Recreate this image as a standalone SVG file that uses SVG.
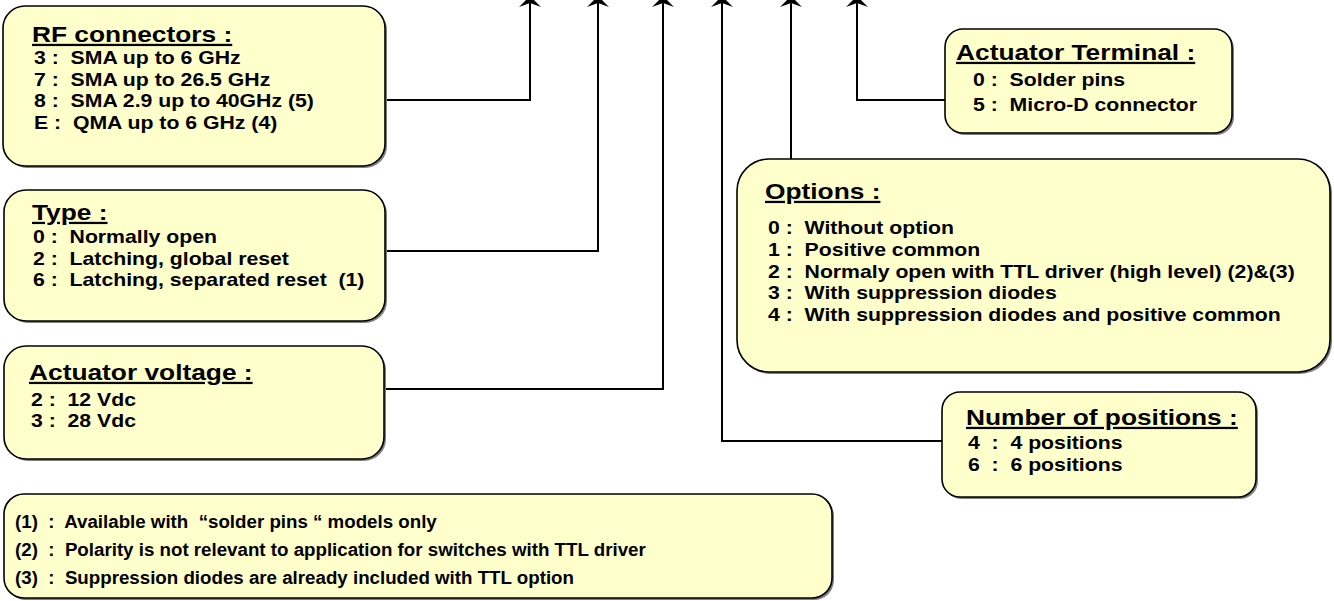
<svg xmlns="http://www.w3.org/2000/svg" width="1334" height="601" viewBox="0 0 1334 601">
<style>
text { font-family: "Liberation Sans", Arial, sans-serif; font-weight: bold; fill: #000; white-space: pre; }
.ti { font-size: 22.5px; text-decoration: underline; }
.it { font-size: 18px; }
.fn { font-size: 17.5px; }
.box { fill: #FFFFCC; stroke: #000; stroke-width: 1.6; }
.sh { fill: #7f7f7f; }
.con { fill: none; stroke: #000; stroke-width: 2; marker-end: url(#arr); }
</style>
<defs>
<marker id="arr" markerUnits="userSpaceOnUse" orient="auto" refX="0" refY="0" markerWidth="30" markerHeight="30" overflow="visible">
<path d="M0,0 L-11,-11 L-7,0 L-11,11 Z" fill="#000"/>
</marker>
</defs>

<g id="connectors">
<path class="con" d="M385,100 H530 V-4"/>
<path class="con" d="M385,251 H598 V-4"/>
<path class="con" d="M384,389 H663 V-4"/>
<path class="con" d="M942,441 H722 V-4"/>
<path class="con" d="M791,159 V-4"/>
<path class="con" d="M945,100 H857 V-4"/>
</g>

<g id="rf-connectors">
<rect class="sh" x="5" y="8" width="382" height="160" rx="22"/>
<rect class="box" x="3" y="6" width="382" height="160" rx="22"/>
<g transform="translate(32,0) scale(1.17,1)">
<text class="ti" x="0" y="42">RF connectors :</text>
</g>
<g transform="translate(34,0) scale(1.18,1)">
<text class="it" x="0" y="64.5">3 :  SMA up to 6 GHz</text>
<text class="it" x="0" y="86.5">7 :  SMA up to 26.5 GHz</text>
<text class="it" x="0" y="107.5">8 :  SMA 2.9 up to 40GHz (5)</text>
<text class="it" x="0" y="129.5">E :  QMA up to 6 GHz (4)</text>
</g>
</g>

<g id="type">
<rect class="sh" x="6" y="192" width="381" height="131" rx="22"/>
<rect class="box" x="4" y="190" width="381" height="131" rx="22"/>
<g transform="translate(32,0) scale(1.17,1)">
<text class="ti" x="0" y="220">Type :</text>
</g>
<g transform="translate(33,0) scale(1.18,1)">
<text class="it" x="0" y="243.5">0 :  Normally open</text>
<text class="it" x="0" y="265.5">2 :  Latching, global reset</text>
<text class="it" x="0" y="286.5">6 :  Latching, separated reset  (1)</text>
</g>
</g>

<g id="actuator-voltage">
<rect class="sh" x="6" y="348" width="380" height="113" rx="22"/>
<rect class="box" x="4" y="346" width="380" height="113" rx="22"/>
<g transform="translate(29,0) scale(1.17,1)">
<text class="ti" x="0" y="380">Actuator voltage :</text>
</g>
<g transform="translate(31,0) scale(1.18,1)">
<text class="it" x="0" y="406">2 :  12 Vdc</text>
<text class="it" x="0" y="427.5">3 :  28 Vdc</text>
</g>
</g>

<g id="footnotes">
<rect class="sh" x="6" y="496" width="828" height="104" rx="20"/>
<rect class="box" x="4" y="494" width="828" height="104" rx="20"/>
<g transform="translate(15,0) scale(1.07,1)">
<text class="fn" x="0" y="528">(1)  :  Available with  “solder pins “ models only</text>
<text class="fn" x="0" y="556">(2)  :  Polarity is not relevant to application for switches with TTL driver</text>
<text class="fn" x="0" y="584">(3)  :  Suppression diodes are already included with TTL option</text>
</g>
</g>

<g id="actuator-terminal">
<rect class="sh" x="947" y="31" width="287" height="104" rx="18"/>
<rect class="box" x="945" y="29" width="287" height="104" rx="18"/>
<g transform="translate(956,0) scale(1.17,1)">
<text class="ti" x="0" y="60">Actuator Terminal :</text>
</g>
<g transform="translate(973,0) scale(1.18,1)">
<text class="it" x="0" y="86.5">0 :  Solder pins</text>
<text class="it" x="0" y="111">5 :  Micro-D connector</text>
</g>
</g>

<g id="options">
<rect class="sh" x="739" y="161" width="593" height="213" rx="32"/>
<rect class="box" x="737" y="159" width="593" height="213" rx="32"/>
<g transform="translate(765,0) scale(1.17,1)">
<text class="ti" x="0" y="199">Options :</text>
</g>
<g transform="translate(768,0) scale(1.18,1)">
<text class="it" x="0" y="234.5">0 :  Without option</text>
<text class="it" x="0" y="256.5">1 :  Positive common</text>
<text class="it" x="0" y="278.5">2 :  Normaly open with TTL driver (high level) (2)&amp;(3)</text>
<text class="it" x="0" y="299.5">3 :  With suppression diodes</text>
<text class="it" x="0" y="321.5">4 :  With suppression diodes and positive common</text>
</g>
</g>

<g id="number-of-positions">
<rect class="sh" x="944" y="394" width="314" height="105" rx="18"/>
<rect class="box" x="942" y="392" width="314" height="105" rx="18"/>
<g transform="translate(966,0) scale(1.17,1)">
<text class="ti" x="0" y="425">Number of positions :</text>
</g>
<g transform="translate(968,0) scale(1.18,1)">
<text class="it" x="0" y="449.5">4  :  4 positions</text>
<text class="it" x="0" y="471">6  :  6 positions</text>
</g>
</g>
</svg>
